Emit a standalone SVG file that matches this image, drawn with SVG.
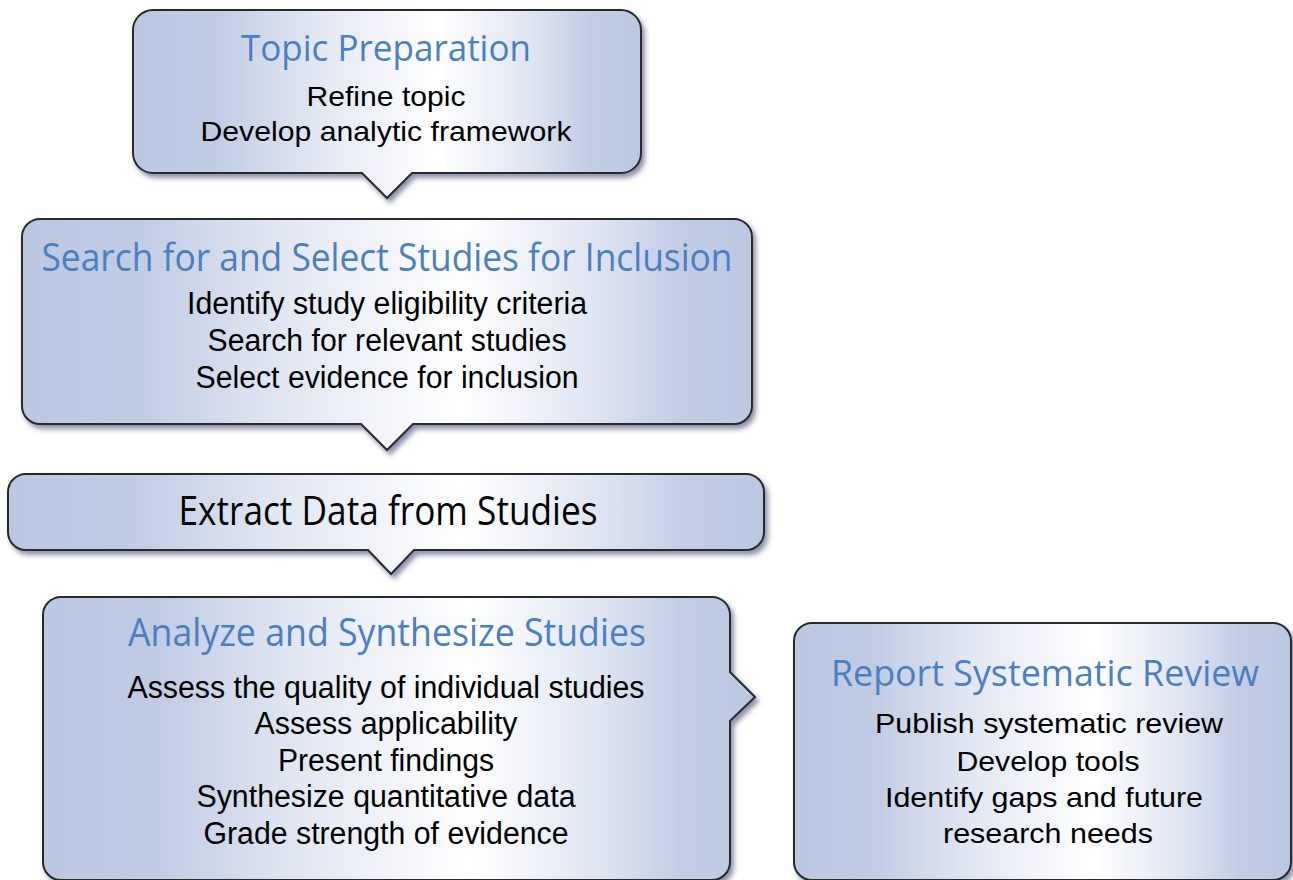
<svg xmlns="http://www.w3.org/2000/svg" width="1293" height="880" viewBox="0 0 1293 880">
<style>
.box{fill:url(#g);stroke:#2b2b2b;stroke-width:2;filter:url(#sh)}
.t{font-family:"Open Sans","Noto Sans","Liberation Sans",sans-serif;fill:#4b7fc0;font-size:36px;text-anchor:middle}
.tc{font-size:39px}
.tb{fill:#000;font-size:41px}
.b{font-family:"Liberation Sans",Arial,sans-serif;fill:#000;font-size:28px;text-anchor:middle}
.bc{font-size:31px}
</style>
<defs>
<linearGradient id="g" x1="0" y1="0" x2="1" y2="0">
<stop offset="0" stop-color="#bcc8e2"/>
<stop offset="0.16" stop-color="#c0cbe4"/>
<stop offset="0.36" stop-color="#e2e7f3"/>
<stop offset="0.6" stop-color="#ffffff"/>
<stop offset="0.78" stop-color="#dfe5f2"/>
<stop offset="0.9" stop-color="#c2cce5"/>
<stop offset="1" stop-color="#bcc8e2"/>
</linearGradient>
<filter id="sh" x="-5%" y="-5%" width="115%" height="125%">
<feDropShadow dx="3" dy="4" stdDeviation="2.5" flood-color="#2d3466" flood-opacity="0.55"/>
</filter>
</defs>
<rect width="1293" height="880" fill="#ffffff"/>
<g id="connectors"></g>
<g id="topic-preparation">
<path class="box" d="M153,10 H621 A20,20 0 0 1 641,30 V153 A20,20 0 0 1 621,173 H412 L387,198 L362,173 H153 A20,20 0 0 1 133,153 V30 A20,20 0 0 1 153,10 Z"/>
<text class="t" x="386" y="61" textLength="290" lengthAdjust="spacingAndGlyphs">Topic Preparation</text>
<text class="b" x="386" y="106" textLength="159" lengthAdjust="spacingAndGlyphs">Refine topic</text>
<text class="b" x="386" y="141" textLength="371" lengthAdjust="spacingAndGlyphs">Develop analytic framework</text>
</g>
<g id="search-select">
<path class="box" d="M40,219 H734 A18,18 0 0 1 752,237 V406 A18,18 0 0 1 734,424 H413 L387,450 L361,424 H40 A18,18 0 0 1 22,406 V237 A18,18 0 0 1 40,219 Z"/>
<text class="t tc" x="387" y="271" textLength="691" lengthAdjust="spacingAndGlyphs">Search for and Select Studies for Inclusion</text>
<text class="b bc" x="387" y="314" textLength="400" lengthAdjust="spacingAndGlyphs">Identify study eligibility criteria</text>
<text class="b bc" x="387" y="351" textLength="359" lengthAdjust="spacingAndGlyphs">Search for relevant studies</text>
<text class="b bc" x="387" y="388" textLength="383" lengthAdjust="spacingAndGlyphs">Select evidence for inclusion</text>
</g>
<g id="extract-data">
<path class="box" d="M26,474 H746 A18,18 0 0 1 764,492 V532 A18,18 0 0 1 746,550 H414 L391,574 L368,550 H26 A18,18 0 0 1 8,532 V492 A18,18 0 0 1 26,474 Z"/>
<text class="t tb" x="388" y="525" textLength="419" lengthAdjust="spacingAndGlyphs">Extract Data from Studies</text>
</g>
<g id="analyze-synthesize">
<path class="box" d="M61,597 H712 A18,18 0 0 1 730,615 V672 L755,697 L730,721 V862 A18,18 0 0 1 712,880 H61 A18,18 0 0 1 43,862 V615 A18,18 0 0 1 61,597 Z"/>
<text class="t tc" x="387" y="646" textLength="518" lengthAdjust="spacingAndGlyphs">Analyze and Synthesize Studies</text>
<text class="b bc" x="386" y="698" textLength="517" lengthAdjust="spacingAndGlyphs">Assess the quality of individual studies</text>
<text class="b bc" x="386" y="734" textLength="263" lengthAdjust="spacingAndGlyphs">Assess applicability</text>
<text class="b bc" x="386" y="771" textLength="216" lengthAdjust="spacingAndGlyphs">Present findings</text>
<text class="b bc" x="386" y="807" textLength="379" lengthAdjust="spacingAndGlyphs">Synthesize quantitative data</text>
<text class="b bc" x="386" y="844" textLength="365" lengthAdjust="spacingAndGlyphs">Grade strength of evidence</text>
</g>
<g id="report-review">
<path class="box" d="M812,623 H1273 A18,18 0 0 1 1291,641 V862 A18,18 0 0 1 1273,880 H812 A18,18 0 0 1 794,862 V641 A18,18 0 0 1 812,623 Z"/>
<text class="t" x="1045" y="686" textLength="428" lengthAdjust="spacingAndGlyphs">Report Systematic Review</text>
<text class="b" x="1049" y="733" textLength="348" lengthAdjust="spacingAndGlyphs">Publish systematic review</text>
<text class="b" x="1048" y="771" textLength="183" lengthAdjust="spacingAndGlyphs">Develop tools</text>
<text class="b" x="1044" y="807" textLength="318" lengthAdjust="spacingAndGlyphs">Identify gaps and future</text>
<text class="b" x="1048" y="843" textLength="210" lengthAdjust="spacingAndGlyphs">research needs</text>
</g>
</svg>
